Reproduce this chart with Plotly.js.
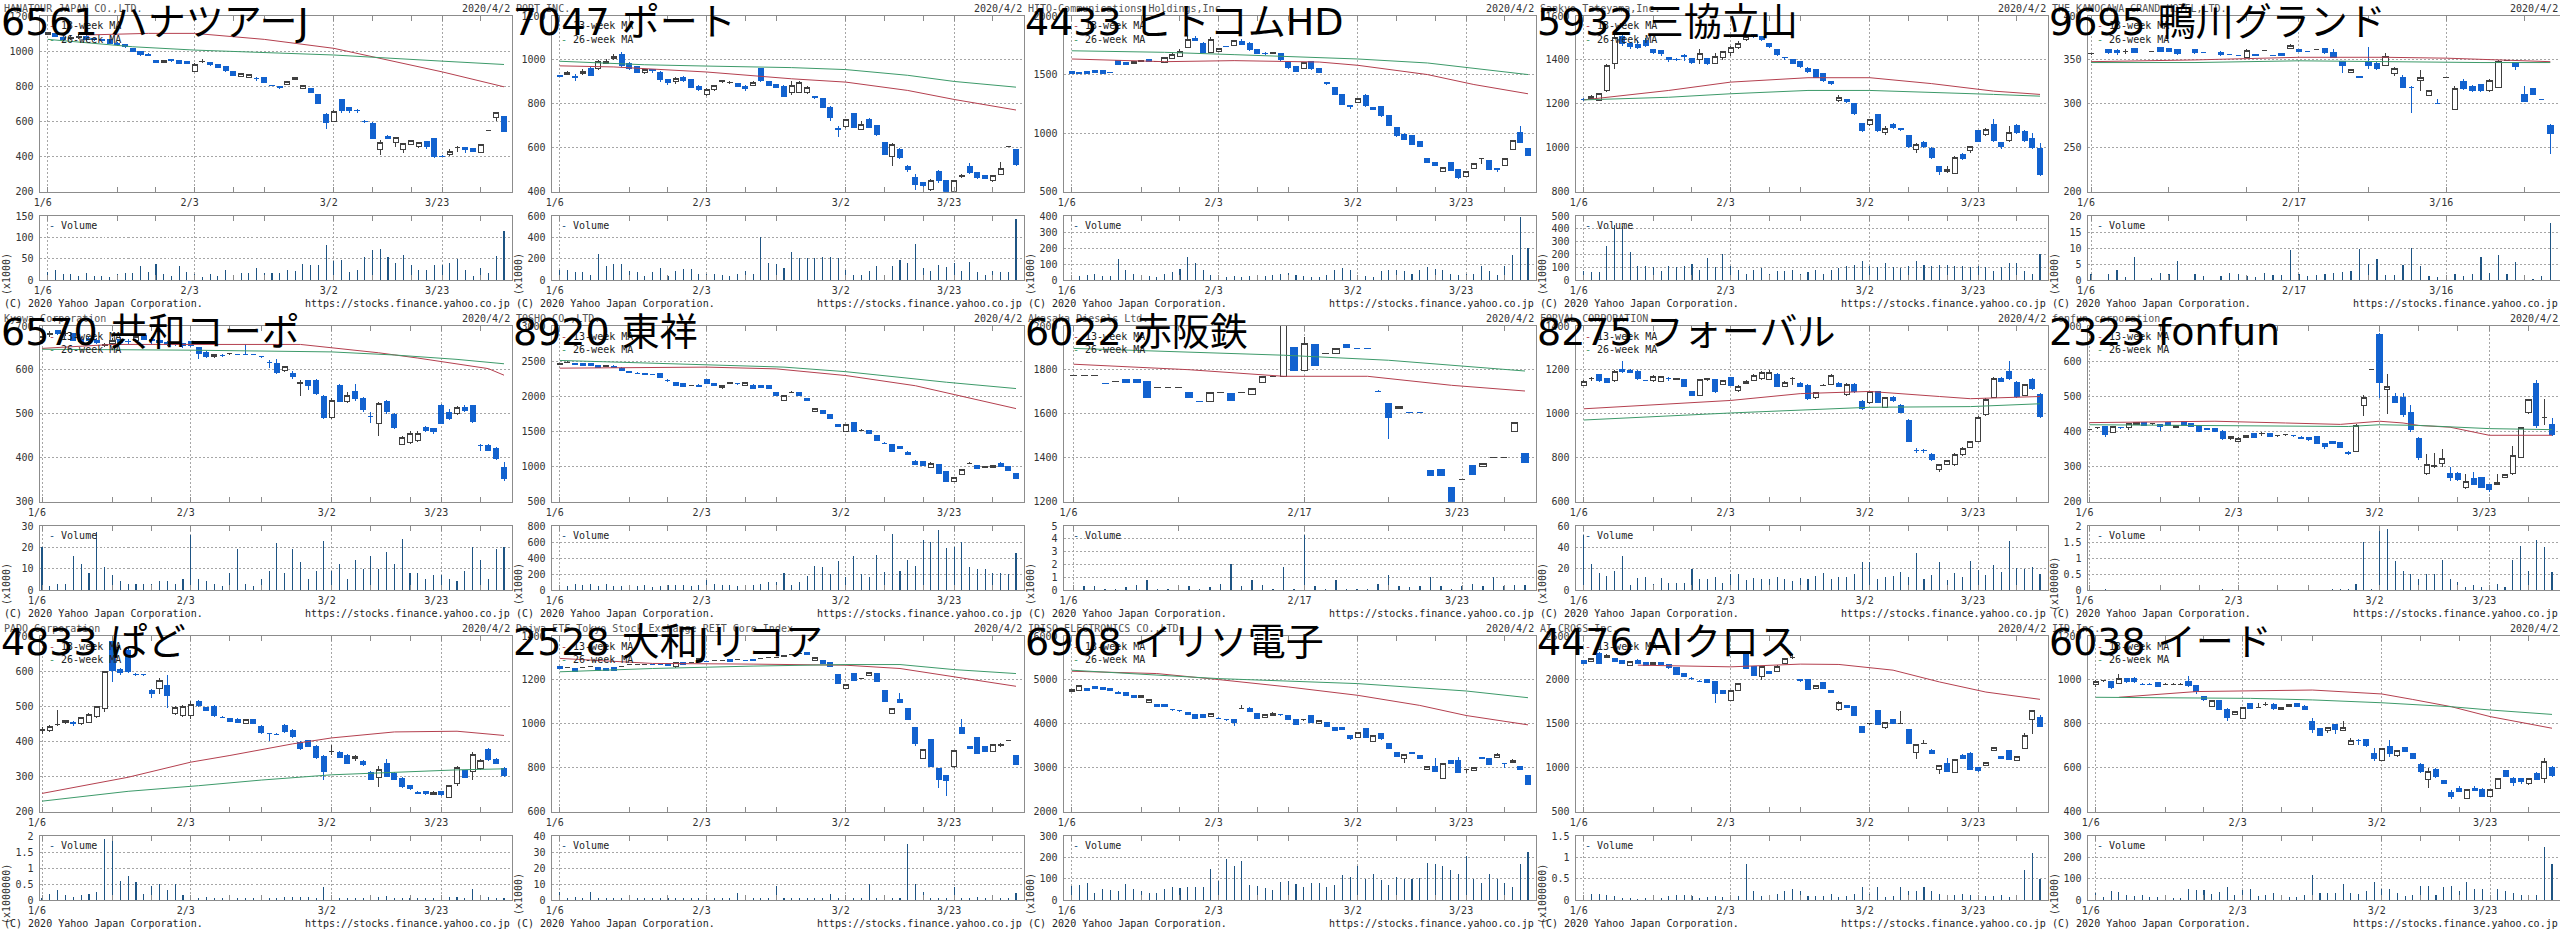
<!DOCTYPE html>
<html>
<head>
<meta charset="utf-8">
<script src="https://cdn.plot.ly/plotly-3.0.1.min.js"></script>
<style>
html,body{margin:0;padding:0;background:#fff;}
#chart{width:2560px;height:930px;}
/* pixel-sharp volume bars and candle bodies */
#chart .barlayer path{shape-rendering:crispEdges !important;}
#chart .boxlayer path{shape-rendering:crispEdges !important;}
</style>
</head>
<body>
<div id="chart"></div>
<script>
// ---------- tick labels (trading-day slots) ----------
const weeksStd = [9,14,24,28,42,47,56];
const datesStd = ['1/6','2/3','3/2','3/23'];
const datePosStd = [0,19,37,51];
const dates9695 = ['1/6','2/17','3/16'];
const datePos9695 = [0,24,41];
const weeks9695 = [9,18,32,50];
const dates6022 = ['1/6','2/17','3/23'];
const datePos6022 = [0,22,37];
const weeks6022 = [10,30,41];

// ---------- daily candles [open, high, low, close] ----------
const ohlc_6561 = [
[1095,1110,1090,1105],[1100,1105,1080,1085],[1080,1085,1060,1065],[1070,1090,1065,1080],[1075,1095,1070,1085],
[1085,1090,1060,1065],[1070,1075,1060,1065],[1065,1070,1055,1060],[1065,1068,1040,1045],[1045,1050,1030,1035],
[1040,1042,1020,1025],[1015,1018,995,1000],[1000,1002,970,980],[980,990,970,978],[945,950,935,938],
[935,950,930,945],[950,958,940,948],[945,948,925,930],[940,942,928,930],[886,932,882,924],
[940,958,935,942],[935,938,918,922],[922,925,902,905],[910,912,880,888],[885,888,858,860],
[858,878,855,875],[852,870,850,866],[845,855,830,845],[848,850,818,822],[805,807,800,803],
[800,802,785,794],[812,828,808,825],[838,852,835,850],[788,808,785,805],[785,790,760,765],
[752,755,698,700],[640,650,555,592],[602,665,600,658],[722,724,650,660],[680,682,650,660],
[665,672,650,662],[602,608,590,600],[590,595,500,502],[438,497,410,482],[515,520,500,505],
[478,510,455,508],[440,478,420,472],[470,492,465,490],[458,485,450,480],[488,490,445,458],
[500,502,390,398],[403,410,400,402],[412,445,405,430],[450,460,425,450],[450,455,420,440],
[445,448,425,430],[425,472,420,468],[550,552,548,550],[622,652,600,648],[630,632,540,545]];
const vol_6561 = [19.5,23,14,14,9,16,9,9,6,14,16,16,33,19,37,14,9,33,19,14,6,14,9,23,11,17,17,27,16,17,
17,23,22,37,35,34,82,45,47,18,23,54,70,72,55,39,58,34,23,23,35,35,39,50,23,9,27,16,56,115];
const ma13_6561 = [[5,1092],[13,1101],[19,1101],[28,1067],[37,1016],[41,978],[51,882],[59,797]];
const ma26_6561 = [[0,1067],[11,1025],[19,1006],[37,978],[51,943],[59,924]];

const ohlc_7047 = [
[928,932,920,926],[935,950,930,945],[925,935,902,922],[938,960,932,948],[962,968,925,930],
[960,1000,955,994],[985,1005,980,995],[1005,1025,1000,1015],[1025,1035,970,975],[985,990,955,960],
[968,972,940,945],[945,960,935,955],[956,960,940,950],[945,948,900,910],[910,915,885,898],
[900,920,890,915],[922,925,900,907],[912,915,870,876],[880,884,860,866],[841,870,838,864],
[864,888,860,884],[900,908,895,905],[895,902,890,898],[892,896,875,880],[880,884,860,868],
[884,905,880,899],[962,965,900,907],[902,905,880,884],[886,890,870,875],[880,885,830,835],
[850,905,840,884],[853,905,848,899],[850,880,845,876],[832,835,820,828],[823,826,780,785],
[785,788,720,736],[686,700,650,682],[698,732,690,727],[755,760,690,693],[685,720,680,708],
[728,735,688,693],[700,705,655,662],[624,628,565,571],[560,622,515,614],[594,600,550,556],
[517,520,490,500],[465,480,410,435],[440,445,420,428],[411,460,405,452],[491,500,440,449],
[449,455,395,398],[403,455,400,449],[467,482,462,476],[517,530,480,487],[487,490,460,466],
[472,478,458,462],[449,475,445,472],[479,535,475,507],[608,610,605,608],[590,595,515,524]];
const vol_7047 = [94,94,78,78,47,244,134,147,147,88,78,41,78,116,38,88,100,100,56,56,56,44,34,59,88,60,400,156,150,110,
260,203,203,210,219,219,203,94,44,44,88,134,47,134,188,156,334,113,81,141,125,163,88,169,78,50,81,75,75,572];
const ma13_7047 = [[0,973],[7,968],[19,945],[30,914],[37,899],[45,861],[51,820],[57,785],[59,772]];
const ma26_7047 = [[0,994],[11,978],[19,972],[30,965],[37,956],[45,930],[51,902],[59,876]];

const ohlc_4433 = [
[1528,1532,1505,1510],[1515,1518,1510,1513],[1522,1525,1505,1510],[1535,1540,1510,1514],[1532,1536,1505,1508],
[1515,1518,1510,1514],[1620,1625,1580,1590],[1605,1610,1580,1590],[1598,1615,1595,1610],[1612,1625,1608,1620],
[1625,1628,1604,1608],[1612,1620,1605,1612],[1600,1650,1595,1645],[1640,1680,1635,1675],[1655,1720,1650,1700],
[1735,1830,1730,1797],[1805,1830,1790,1795],[1768,1775,1685,1692],[1692,1820,1685,1797],[1698,1730,1690,1726],
[1742,1745,1735,1738],[1750,1795,1745,1790],[1782,1800,1750,1755],[1768,1775,1705,1712],[1712,1715,1675,1680],
[1680,1690,1670,1678],[1678,1695,1675,1692],[1684,1688,1620,1627],[1605,1610,1550,1557],[1571,1575,1520,1528],
[1551,1610,1545,1600],[1613,1618,1542,1548],[1548,1550,1510,1514],[1430,1440,1415,1428],[1387,1390,1325,1330],
[1330,1335,1240,1245],[1238,1242,1210,1228],[1260,1300,1255,1296],[1325,1330,1225,1232],[1220,1225,1200,1205],
[1226,1230,1140,1147],[1152,1155,1062,1068],[1048,1050,970,977],[992,1000,940,949],[983,988,895,901],
[929,932,880,887],[780,790,745,752],[752,755,720,723],[672,715,665,710],[746,750,675,681],
[689,695,612,619],[630,675,625,670],[695,742,690,740],[780,790,740,780],[765,770,685,689],
[700,705,670,690],[723,788,720,785],[864,940,860,935],[1006,1060,915,921],[870,875,808,813]];
const vol_4433 = [20,25,30,40,28,25,130,60,40,30,25,20,40,50,70,142,104,63,30,20,20,25,20,22,20,25,30,40,45,30,
25,20,18,30,60,75,65,30,25,20,55,60,60,55,40,60,80,70,60,40,30,40,40,85,55,30,90,156,396,198];
const ma13_4433 = [[0,1633],[12,1610],[21,1619],[32,1607],[37,1579],[46,1500],[52,1415],[59,1336]];
const ma26_4433 = [[0,1703],[12,1690],[21,1670],[37,1633],[46,1599],[59,1500]];

const ohlc_5932 = [
[1220,1225,1212,1218],[1225,1240,1220,1232],[1215,1250,1212,1245],[1260,1380,1255,1375],[1385,1520,1360,1500],
[1505,1525,1465,1475],[1475,1480,1450,1460],[1470,1490,1450,1457],[1490,1500,1460,1467],[1447,1450,1425,1432],
[1441,1445,1420,1429],[1410,1415,1390,1401],[1402,1410,1395,1400],[1418,1425,1395,1416],[1406,1410,1380,1390],
[1400,1450,1380,1429],[1406,1410,1375,1386],[1386,1430,1380,1417],[1413,1440,1400,1437],[1432,1462,1420,1456],
[1455,1485,1450,1477],[1493,1510,1488,1505],[1515,1520,1500,1508],[1505,1510,1485,1492],[1475,1478,1455,1460],
[1447,1450,1420,1425],[1412,1415,1400,1410],[1400,1405,1380,1386],[1392,1395,1365,1370],[1363,1368,1340,1348],
[1355,1358,1318,1322],[1337,1340,1300,1307],[1300,1305,1288,1292],[1215,1240,1210,1227],[1218,1222,1205,1210],
[1203,1206,1150,1157],[1111,1115,1072,1078],[1108,1130,1100,1127],[1150,1155,1070,1078],[1070,1100,1060,1088],
[1108,1112,1085,1093],[1086,1090,1075,1085],[1055,1060,1000,1005],[994,1020,975,1017],[1024,1030,998,1005],
[998,1002,950,956],[914,918,878,894],[891,915,885,902],[883,962,880,956],[968,975,945,953],
[989,1010,975,1004],[1078,1082,1025,1029],[1062,1090,1055,1081],[1105,1130,1028,1032],[1023,1028,995,1008],
[1032,1100,1028,1070],[1101,1110,1065,1070],[1073,1080,1025,1032],[1044,1068,995,1001],[998,1020,870,879]];
const vol_5932 = [70,60,65,265,430,420,215,110,110,100,70,110,100,110,125,80,170,100,200,110,80,50,80,90,50,70,70,80,50,60,
80,50,80,90,110,120,145,110,100,130,105,90,110,145,115,110,120,120,110,110,100,110,100,70,100,130,130,70,50,200];
const ma13_5932 = [[0,1218],[11,1261],[19,1299],[29,1319],[37,1319],[45,1292],[53,1258],[59,1243]];
const ma26_5932 = [[0,1218],[11,1230],[19,1246],[29,1261],[37,1261],[45,1253],[53,1243],[59,1235]];

const ohlc_9695 = [
[357,358,356,357],null,[362,363,357,358],[361,362,356,358],[360,362,357,360],
[363,364,358,359],null,[360,360,359,360],[364,365,359,360],[363,364,359,360],
[362,363,356,357],null,[362,363,357,358],[358,358,358,358],null,
[359,360,355,356],[356,356,356,356],[355,355,355,355],[353,362,352,361],[356,357,354,355],
[361,361,361,361],[355,355,355,355],[357,358,354,355],[363,368,362,366],[362,363,359,360],
[360,360,360,360],[362,362,362,362],[363,364,357,358],[359,362,352,353],[348,349,335,344],
[336,339,335,339],[331,332,329,330],[348,365,340,344],[346,348,338,340],[344,358,343,354],
[334,342,332,340],[330,333,318,319],[319,320,290,319],[327,339,315,330],[310,316,309,315],
[300,305,300,300],[330,330,330,330],[294,320,293,317],[325,328,316,317],[320,321,314,315],
[322,323,314,315],[315,328,313,327],[319,350,318,348],[349,349,349,349],[347,348,338,343],
[311,320,302,303],[317,318,310,311],[305,305,305,305],[275,277,243,266]];
const vol_9695 = [1.9,null,1.8,3.1,0.8,7.1,null,0.5,2.3,1.9,6,null,1.9,1.2,null,1.2,2.3,1.9,1.4,0.8,
2.1,1.5,1.5,9.4,2,1.2,1.5,2,2.3,2.5,2.8,9.6,4.9,6.5,1.5,1.5,4.7,10,4.4,1.2,0.8,1.2,1.9,1.4,1.8,
7.3,2.3,7.7,1.9,5.6,0.8,0.2,1.2,17.9];
const ma13_9695 = [[0,348],[12,350],[24,353],[34,353],[41,352],[53,348]];
const ma26_9695 = [[0,347],[12,347],[24,349],[34,348],[45,347],[53,347]];

const ohlc_6570 = [
[668,678,665,675],[680,688,675,683],[690,692,680,682],[683,688,678,683],[682,684,665,668],
[670,675,662,665],[672,676,664,668],[668,672,660,662],[655,662,652,658],[660,672,656,668],
[670,675,660,662],[665,670,658,664],[668,678,664,675],[678,680,668,670],[670,674,660,668],
[668,672,660,662],[662,665,655,657],[660,663,655,658],[660,662,650,656],[664,666,652,656],
[650,652,625,637],[640,642,628,630],[630,637,628,635],[633,636,630,633],[637,639,635,637],
[635,637,633,635],[635,660,633,635],[635,637,633,635],[630,632,628,630],[618,622,605,618],
[614,625,590,595],[599,610,596,607],[592,598,580,585],[569,576,540,572],[575,578,555,565],
[576,580,544,546],[540,542,488,491],[491,535,488,531],[565,568,526,529],[529,550,525,542],
[550,568,530,534],[534,538,505,511],[494,505,480,494],[479,527,450,524],[529,531,500,506],
[498,502,465,469],[430,450,428,447],[435,460,432,456],[439,460,435,456],[470,472,458,462],
[466,468,455,460],[519,522,476,479],[504,510,485,489],[501,518,498,515],[515,520,505,508],
[519,521,480,483],[427,432,415,427],[428,432,415,416],[420,425,395,398],[378,390,348,352]];
const vol_6570 = [20,2,3,3,16,12,8,27,11,7,4,3,3,3,3,4,4,3,5,26,5,4,3,2,8,19,3,2,5,9,
22,8,19,13,5,9,23,9,12,5,14,10,16,10,18,12,24,8,8,5,7,7,5,4,9,20,14,5,19,20];
const ma13_6570 = [[0,649],[9,658],[33,658],[37,651],[43,639],[48,627],[53,614],[57,603],[59,588]];
const ma26_6570 = [[0,647],[19,645],[37,641],[45,634],[53,624],[59,614]];

const ohlc_8920 = [
[2450,2475,2440,2470],[2475,2495,2470,2485],[2470,2480,2445,2450],[2470,2480,2435,2440],[2465,2475,2435,2440],
[2440,2450,2410,2415],[2430,2450,2420,2440],[2430,2440,2400,2405],[2400,2410,2365,2370],[2350,2360,2335,2340],
[2330,2340,2320,2330],[2325,2335,2310,2315],[2310,2320,2300,2310],[2320,2330,2265,2270],[2220,2240,2210,2220],
[2190,2200,2155,2160],[2175,2185,2135,2140],[2150,2160,2140,2150],[2160,2170,2135,2140],[2235,2245,2170,2175],
[2175,2185,2145,2150],[2120,2165,2110,2160],[2180,2195,2175,2190],[2175,2185,2165,2175],[2160,2210,2155,2200],
[2160,2170,2110,2115],[2150,2160,2120,2125],[2150,2160,2100,2105],[2055,2065,2010,2015],[1945,2025,1935,2015],
[2055,2070,2045,2055],[2055,2065,2005,2010],[1970,1980,1930,1935],[1790,1835,1780,1825],[1800,1810,1755,1760],
[1735,1745,1675,1680],[1600,1610,1570,1575],[1505,1610,1500,1600],[1630,1640,1500,1505],[1520,1535,1505,1520],
[1515,1525,1465,1470],[1440,1450,1365,1370],[1335,1345,1325,1335],[1310,1320,1210,1215],[1280,1290,1245,1250],
[1205,1215,1165,1170],[1075,1100,1020,1025],[1075,1085,1005,1010],[980,1060,975,1050],[1025,1035,900,905],
[930,940,780,790],[790,850,780,845],[885,960,880,955],[1050,1070,1030,1050],[1015,1025,965,970],
[990,1005,985,1000],[980,1020,975,1015],[1050,1060,995,1000],[995,1005,940,945],[895,905,830,835]];
const vol_8920 = [40,50,70,60,70,50,70,50,50,60,50,60,40,50,60,60,60,50,60,120,70,60,60,50,60,60,80,100,100,210,
60,100,180,300,290,200,360,160,420,200,160,440,220,700,240,380,300,620,600,750,530,540,600,290,260,260,210,210,200,460];
const ma13_8920 = [[0,2400],[19,2415],[28,2390],[37,2295],[46,2150],[52,2005],[59,1825]];
const ma26_8920 = [[0,2510],[19,2450],[29,2415],[37,2350],[50,2200],[59,2110]];

const ohlc_6022 = [
[1776,1778,1774,1776],[1776,1778,1774,1776],[1776,1778,1774,1776],[1740,1742,1738,1740],[1748,1750,1746,1748],
[1757,1759,1743,1745],[1757,1759,1743,1745],[1748,1750,1674,1676],[1719,1721,1717,1719],[1719,1721,1717,1719],
[1719,1721,1717,1719],[1696,1698,1671,1673],[1658,1660,1656,1658],[1658,1697,1656,1695],[1696,1698,1694,1696],
[1692,1694,1659,1661],[1696,1698,1694,1696],[1688,1716,1686,1714],[1742,1770,1740,1768],[1771,1773,1769,1771],
[1771,2020,1769,2010],[1901,1903,1796,1798],[1798,1951,1796,1921],[1916,1918,1819,1821],[1875,1877,1873,1875],
[1875,1900,1873,1898],[1918,1920,1900,1902],[1898,1900,1896,1898],[1898,1900,1896,1898],[1704,1710,1700,1704],
[1646,1648,1485,1585],[1623,1637,1621,1635],[1605,1607,1603,1605],[1605,1607,1603,1605],[1340,1342,1318,1320],
[1348,1350,1318,1320],[1264,1266,1190,1195],[1302,1304,1300,1302],[1363,1365,1323,1325],[1359,1376,1357,1374],
[1400,1402,1398,1400],[1400,1402,1398,1400],[1521,1561,1519,1559],[1420,1422,1377,1379]];
const vol_6022 = [0.4,0.3,0.35,0.1,0.1,0.2,0.4,0.8,0.05,0.05,0.1,0.3,0.1,0.2,0.5,2.0,0.3,0.8,0.4,0.1,
1.8,0.1,4.3,0.3,0.1,0.8,0.1,0.1,0.1,0.5,1.2,0.3,0.25,0.3,1.0,0.3,0.1,0.3,0.5,0.3,1.0,0.3,0.4,0.4];
const ma13_6022 = [[0,1826],[11,1801],[20,1771],[28,1771],[36,1730],[43,1704]];
const ma26_6022 = [[0,1898],[20,1867],[30,1844],[36,1821],[43,1795]];

const ohlc_8275 = [
[1130,1155,1125,1148],[1160,1170,1150,1160],[1178,1182,1145,1150],[1160,1165,1140,1145],[1150,1200,1145,1195],
[1200,1240,1185,1192],[1198,1202,1185,1190],[1195,1198,1155,1160],[1152,1156,1148,1152],[1150,1175,1145,1170],
[1148,1172,1145,1168],[1160,1168,1150,1160],[1156,1165,1152,1160],[1155,1160,1120,1125],[1100,1105,1080,1085],
[1085,1160,1080,1155],[1155,1165,1150,1160],[1155,1160,1095,1100],[1135,1155,1130,1150],[1165,1170,1125,1130],
[1107,1130,1100,1125],[1140,1152,1135,1148],[1152,1180,1148,1175],[1160,1195,1155,1188],[1158,1198,1155,1190],
[1178,1185,1120,1125],[1125,1150,1120,1145],[1160,1170,1130,1160],[1140,1145,1120,1125],[1130,1135,1065,1070],
[1073,1100,1068,1095],[1128,1135,1125,1130],[1135,1180,1130,1175],[1140,1145,1120,1125],[1087,1140,1082,1135],
[1135,1140,1095,1100],[1058,1062,1018,1023],[1050,1105,1045,1100],[1100,1105,1048,1053],[1030,1078,1025,1073],
[1076,1080,1055,1060],[1040,1045,1003,1008],[972,975,870,875],[832,845,820,832],[832,840,820,832],
[817,820,785,790],[748,772,735,768],[771,790,765,786],[768,820,762,817],[814,848,810,844],
[847,878,843,873],[875,990,870,982],[997,1070,992,1064],[1076,1168,1072,1163],[1163,1170,1143,1148],
[1194,1240,1155,1160],[1145,1150,1074,1079],[1084,1138,1080,1133],[1155,1165,1110,1114],[1088,1095,980,988]];
const vol_8275 = [52,24,16,13,18,32,5,11,12,6,11,7,7,7,20,10,10,12,7,15,15,9,11,10,10,12,10,8,11,10,
13,16,10,12,12,15,26,26,10,12,13,17,12,35,10,14,26,9,16,12,27,19,14,23,17,46,21,20,22,15];
const ma13_8275 = [[0,1023],[19,1061],[28,1092],[37,1102],[46,1079],[50,1069],[59,1079]];
const ma26_8275 = [[0,972],[19,1004],[37,1030],[50,1033],[59,1046]];

const ohlc_2323 = [
[406,408,404,406],[410,414,406,410],[414,415,385,391],[398,416,396,414],[412,414,408,410],
[410,425,405,422],[419,426,417,424],[424,426,415,417],[422,425,418,422],[420,422,400,414],
[424,426,415,417],[412,418,410,416],[427,429,415,417],[422,424,413,415],[417,419,399,401],
[408,410,403,405],[408,410,399,401],[401,403,377,379],[379,388,377,386],[372,383,370,381],
[382,391,380,389],[393,395,382,384],[393,398,388,393],[393,395,384,386],[389,391,384,389],
[390,392,386,390],[389,391,385,389],[384,386,378,380],[382,385,374,376],[386,388,365,367],
[365,368,350,357],[370,372,365,367],[369,371,353,355],[341,343,334,336],[343,420,341,417],
[474,505,445,496],[576,578,574,576],[677,680,495,538],[520,562,450,527],[498,510,480,482],
[496,508,440,449],[455,475,398,405],[379,383,320,325],[279,335,275,306],[300,338,297,302],
[310,350,300,322],[279,300,258,270],[281,284,258,262],[241,278,236,258],[265,285,248,250],
[268,270,238,240],[248,250,228,236],[249,280,247,255],[270,280,268,276],[279,358,275,331],
[325,412,323,410],[455,492,450,490],[536,545,410,417],[439,492,418,439],[419,438,388,390]];
const vol_2323 = [0.01,0.01,0.02,0.01,0.01,0.01,0.01,0.01,0.01,0.01,0.01,0.01,0.01,0.01,0.01,0.01,0.01,0.02,0.01,0.01,
0.01,0.01,0.01,0.01,0.01,0.01,0.01,0.01,0.01,0.01,0.01,0.02,0.03,0.02,0.2,1.5,0.02,2.0,1.9,0.9,
0.6,0.5,0.35,0.5,0.5,0.95,0.35,0.25,0.1,0.15,0.1,0.12,0.2,0.1,0.95,1.38,0.6,1.55,1.35,0.57];
const ma13_2323 = [[0,425],[16,429],[25,424],[32,420],[37,429],[40,424],[42,417],[46,412],[51,389],[59,389]];
const ma26_2323 = [[0,419],[16,417],[33,414],[37,419],[42,417],[51,408],[59,405]];

const ohlc_4833 = [
[430,440,420,435],[431,446,428,443],[449,490,445,449],[455,462,450,460],[455,458,445,450],
[450,470,447,468],[455,480,452,477],[470,500,467,498],[493,600,485,598],[685,690,570,603],
[605,610,590,595],[660,665,595,600],[591,595,585,591],[590,592,586,590],[545,550,525,535],
[550,580,535,572],[560,590,495,531],[479,500,475,496],[474,503,470,500],[474,515,465,506],
[514,518,498,501],[496,498,486,489],[500,503,470,474],[469,472,466,469],[465,467,456,458],
[463,466,452,455],[452,465,450,462],[462,465,450,452],[443,446,420,424],[422,425,400,422],
[420,423,417,420],[445,450,424,427],[431,435,410,414],[398,400,377,379],[403,405,383,386],
[386,390,350,353],[357,360,290,315],[372,390,360,372],[368,372,352,355],[360,364,335,338],
[350,361,345,358],[342,346,331,334],[312,316,290,293],[296,330,270,319],[336,350,298,301],
[309,312,290,293],[295,298,268,271],[274,277,262,265],[255,258,249,252],[258,260,248,251],
[250,258,248,255],[258,260,246,249],[241,277,238,274],[279,330,272,327],[317,320,295,298],
[315,370,290,363],[322,349,320,346],[376,380,345,348],[348,352,335,338],[322,326,300,303]];
const vol_4833 = [0.05,0.2,0.3,0.15,0.1,0.15,0.2,0.25,1.9,2.0,0.6,0.75,0.55,0.2,0.45,0.5,0.3,0.5,0.15,0.1,
0.05,0.1,0.05,0.05,0.05,0.05,0.05,0.05,0.05,0.05,0.05,0.08,0.1,0.08,0.08,0.05,0.4,0.05,0.05,0.05,
0.05,0.06,0.05,0.08,0.12,0.06,0.05,0.05,0.06,0.05,0.06,0.08,0.1,0.1,0.05,0.33,0.1,0.08,0.05,0.05];
const ma13_4833 = [[0,252],[11,298],[19,341],[24,360],[32,393],[37,410],[45,427],[53,429],[59,417]];
const ma26_4833 = [[0,230],[11,258],[20,274],[28,290],[37,305],[45,312],[53,319],[59,322]];

const ohlc_2528 = [
[1260,1262,1250,1252],[1256,1258,1254,1256],[1252,1255,1235,1237],[1255,1257,1253,1255],[1260,1262,1258,1260],
[1255,1257,1243,1245],[1252,1254,1239,1241],[1256,1258,1242,1244],[1260,1262,1258,1260],[1270,1272,1268,1270],
[1270,1272,1268,1270],[1272,1274,1270,1272],[1270,1272,1268,1270],[1270,1272,1268,1270],[1275,1277,1262,1264],
[1260,1280,1255,1278],[1278,1280,1270,1272],[1278,1280,1276,1278],[1282,1300,1280,1298],[1282,1284,1280,1282],
[1287,1289,1285,1287],[1287,1289,1285,1287],[1293,1295,1283,1285],[1293,1295,1291,1293],[1290,1292,1288,1290],
[1293,1295,1285,1287],[1296,1298,1294,1296],[1302,1304,1300,1302],[1302,1304,1300,1302],[1305,1315,1303,1313],
[1316,1318,1314,1316],[1320,1322,1318,1320],[1323,1326,1314,1316],[1287,1304,1285,1302],[1290,1292,1273,1275],
[1278,1280,1260,1262],[1226,1228,1184,1186],[1160,1182,1158,1180],[1229,1231,1196,1198],[1206,1208,1204,1206],
[1221,1234,1219,1232],[1229,1231,1193,1195],[1150,1152,1102,1104],[1046,1070,1044,1068],[1111,1140,1093,1095],
[1069,1071,1016,1018],[982,984,900,911],[840,887,838,885],[927,929,802,804],[798,800,710,745],
[763,765,670,743],[804,880,800,878],[985,1020,952,954],[895,897,888,890],[936,938,861,863],
[896,898,873,875],[875,910,873,908],[900,912,895,905],[924,926,922,924],[858,860,815,817]];
const vol_2528 = [5,1,2,1,5,1,1,1,1,1,1,1,1,1,1,1,1,1,1,1,1,1,1,4.5,1,1,1,1,8.5,1,
1,1,1,1,1,3.5,1,1,1,1,10,1,1,1,1,35,10,5,1,1,1,8,1,1,2,1,1,1,1,4.5];
const ma13_2528 = [[0,1298],[12,1275],[25,1272],[33,1270],[37,1267],[44,1252],[51,1214],[59,1171]];
const ma26_2528 = [[0,1237],[12,1252],[25,1263],[37,1270],[44,1270],[51,1247],[59,1229]];

const ohlc_6908 = [
[4740,4800,4720,4790],[4763,4880,4750,4863],[4800,4810,4755,4765],[4855,4870,4790,4800],[4825,4840,4770,4780],
[4800,4815,4740,4750],[4725,4740,4680,4687],[4725,4735,4640,4650],[4650,4660,4585,4595],[4595,4650,4585,4635],
[4496,4560,4485,4550],[4443,4455,4385,4397],[4435,4445,4385,4397],[4320,4340,4300,4320],[4305,4320,4280,4305],
[4267,4280,4200,4214],[4214,4225,4100,4115],[4214,4225,4140,4150],[4168,4240,4160,4229],[4130,4145,4115,4130],
[4090,4105,4075,4090],[4100,4110,3960,4040],[4360,4420,4340,4360],[4360,4380,4270,4283],[4229,4240,4105,4115],
[4150,4225,4140,4214],[4190,4260,4180,4244],[4206,4220,4190,4206],[4190,4200,4080,4090],[4100,4110,3970,3985],
[4090,4105,4075,4090],[4190,4200,4030,4040],[4000,4085,3990,4076],[4040,4050,3930,3940],[3908,3920,3835,3847],
[3924,3935,3850,3863],[3733,3745,3640,3656],[3680,3805,3670,3794],[3885,3900,3670,3680],[3595,3745,3585,3733],
[3771,3785,3640,3656],[3557,3570,3440,3450],[3351,3365,3240,3252],[3213,3325,3100,3313],[3340,3350,3310,3320],
[3275,3290,3190,3200],[2970,3040,2960,3025],[3040,3220,2905,2915],[2763,3110,2750,3100],[3160,3175,3090,3100],
[3160,3240,2885,2895],[2950,2965,2880,2950],[2935,3020,2925,3008],[3237,3250,3190,3200],[3200,3215,3060,3070],
[3237,3330,3225,3313],[3100,3115,3000,3100],[3120,3190,3110,3175],[3025,3040,2940,2950],[2820,2835,2600,2625]];
const vol_6908 = [65,70,80,35,50,45,40,75,50,40,35,35,50,60,55,60,60,60,145,90,190,160,185,70,65,55,45,85,90,75,
60,80,80,60,70,115,110,160,100,120,95,70,110,100,100,105,175,170,160,140,120,205,100,80,120,100,80,60,170,225];
const ma13_6908 = [[0,5198],[11,5145],[19,5008],[28,4840],[37,4649],[45,4420],[51,4190],[59,3977]];
const ma26_6908 = [[0,5221],[19,5030],[37,4916],[51,4748],[59,4595]];

const ohlc_4476 = [
[2218,2230,2180,2187],[2206,2255,2200,2244],[2300,2320,2180,2187],[2256,2290,2250,2282],[2244,2250,2200,2206],
[2218,2225,2180,2187],[2168,2215,2160,2206],[2225,2235,2180,2187],[2195,2200,2160,2168],[2175,2200,2170,2195],
[2195,2200,2170,2175],[2180,2185,2130,2140],[2137,2145,2055,2065],[2072,2080,2035,2042],[2015,2030,2000,2015],
[1985,2000,1975,1985],[2008,2015,1960,1970],[1977,1985,1740,1851],[1882,1890,1840,1851],[1767,1890,1760,1882],
[1882,1965,1875,1958],[2302,2320,2120,2130],[2149,2160,2045,2053],[2042,2155,2000,2149],[2092,2100,2065,2072],
[2092,2165,2085,2156],[2187,2255,2180,2244],[2256,2290,2240,2256],[2004,2015,1980,1989],[2004,2010,1880,1889],
[1908,1945,1900,1939],[1966,1975,1895,1901],[1882,1890,1855,1862],[1660,1755,1650,1748],[1710,1720,1685,1691],
[1698,1705,1590,1595],[1469,1475,1395,1404],[1500,1510,1490,1500],[1652,1660,1485,1492],[1454,1525,1445,1519],
[1545,1550,1495,1500],[1508,1650,1500,1508],[1431,1440,1270,1278],[1176,1270,1100,1264],[1271,1320,1265,1271],
[1202,1210,1160,1164],[985,1030,930,1023],[1050,1110,950,958],[946,1105,940,1099],[1145,1160,1105,1110],
[1164,1175,980,985],[1004,1010,955,965],[1023,1065,1015,1061],[1195,1240,1190,1233],[1126,1135,1105,1110],
[1195,1200,1095,1099],[1080,1130,1075,1126],[1214,1400,1210,1366],[1545,1660,1380,1652],[1576,1600,1465,1469]];
const vol_4476 = [0.12,0.15,0.15,0.12,0.1,0.05,0.05,0.03,0.05,0.05,0.05,0.1,0.12,0.12,0.1,0.05,0.07,0.1,0.08,0.1,
0.1,0.85,0.2,0.1,0.08,0.15,0.2,0.25,0.2,0.1,0.1,0.1,0.15,0.08,0.1,0.15,0.3,0.15,0.3,0.07,
0.1,0.3,0.2,0.2,0.3,0.2,0.15,0.1,0.12,0.15,0.12,0.1,0.1,0.1,0.12,0.08,0.1,0.7,1.1,0.5];
const ma13_4476 = [[7,2168],[19,2149],[28,2180],[33,2176],[40,2111],[46,1977],[52,1862],[59,1779]];
const ma26_4476 = [];

const ohlc_6038 = [
[977,1000,970,995],[997,1000,990,997],[992,995,960,966],[985,1025,980,1008],[1006,1010,988,992],
[1006,1012,988,992],[981,985,978,981],[981,985,978,981],[987,990,968,972],[980,984,976,980],
[980,984,976,980],[981,985,978,981],[992,1020,970,974],[974,978,935,947],[924,928,905,909],
[881,908,878,905],[905,908,862,866],[866,870,815,830],[843,858,840,855],[825,878,820,875],
[893,896,866,870],[875,895,870,875],[890,900,880,890],[890,893,865,870],[866,878,862,875],
[878,889,875,886],[893,896,875,878],[881,884,862,866],[810,825,760,775],[779,782,745,749],
[772,787,760,784],[795,800,755,775],[772,812,770,784],[708,735,705,726],[723,730,705,723],
[729,732,695,703],[663,690,630,643],[635,691,630,688],[699,725,650,666],[658,681,650,678],
[693,696,670,673],[666,669,640,643],[617,620,575,582],[547,600,510,582],[593,600,555,559],
[541,545,525,529],[486,500,460,471],[506,515,490,494],[461,502,458,499],[506,515,492,496],
[502,508,465,468],[471,505,468,502],[506,555,503,552],[587,590,558,562],[552,556,518,532],
[552,555,525,537],[529,555,520,552],[572,580,544,547],[552,645,530,628],[602,610,560,567]];
const vol_6038 = [35,15,40,38,22,20,25,15,15,15,10,8,50,45,45,30,38,60,25,45,50,20,25,35,20,15,15,25,115,35,
35,35,75,35,30,40,85,50,50,35,20,25,65,65,25,60,65,40,85,50,50,25,50,40,35,25,25,25,250,170];
const ma13_6038 = [[3,921],[13,947],[28,954],[37,936],[41,911],[46,878],[51,833],[59,780]];
const ma26_6038 = [[0,921],[20,916],[28,909],[37,896],[46,878],[51,863],[59,843]];

// ---------- x scales: slot count, labelled dates, weekly ticks, last-slot pixel ----------
const X_SCALES = {
  std:  {n:60, vals:datePosStd,  text:datesStd,  weeks:weeksStd,  lastPx:504},
  s9695:{n:54, vals:datePos9695, text:dates9695, weeks:weeks9695, lastPx:502.3},
  s6022:{n:44, vals:datePos6022, text:dates6022, weeks:weeks6022, lastPx:501}
};

// price:[min,max,step]  volume:[min,max,step]  first: pixel of slot 0 inside the panel
const panels = [
 {title:'6561 ハナツアーJ', name:'HANATOUR JAPAN CO.,LTD.', ohlc:ohlc_6561, vol:vol_6561, ma13:ma13_6561, ma26:ma26_6561, price:[200,1200,200], volume:[0,150,50], unit:'(x1000)', xs:'std', first:47.7},
 {title:'7047 ポート', name:'PORT INC.', ohlc:ohlc_7047, vol:vol_7047, ma13:ma13_7047, ma26:ma26_7047, price:[400,1200,200], volume:[0,600,200], unit:'(x1000)', xs:'std', first:47.7},
 {title:'4433 ヒトコムHD', name:'HITO-Communications Holdings,Inc.', ohlc:ohlc_4433, vol:vol_4433, ma13:ma13_4433, ma26:ma26_4433, price:[500,2000,500], volume:[0,400,100], unit:'(x1000)', xs:'std', first:47.7},
 {title:'5932 三協立山', name:'Sankyo Tateyama,Inc.', ohlc:ohlc_5932, vol:vol_5932, ma13:ma13_5932, ma26:ma26_5932, price:[800,1600,200], volume:[0,500,100], unit:'(x1000)', xs:'std', first:47.7},
 {title:'9695 鴨川グランド', name:'THE KAMOGAWA GRAND HOTEL,LTD.', ohlc:ohlc_9695, vol:vol_9695, ma13:ma13_9695, ma26:ma26_9695, price:[200,400,50], volume:[0,20,5], unit:'(x1000)', xs:'s9695', first:43},
 {title:'6570 共和コーポ', name:'Kyowa Corporation', ohlc:ohlc_6570, vol:vol_6570, ma13:ma13_6570, ma26:ma26_6570, price:[300,700,100], volume:[0,30,10], unit:'(x1000)', xs:'std', first:42},
 {title:'8920 東祥', name:'TOSHO CO.,LTD.', ohlc:ohlc_8920, vol:vol_8920, ma13:ma13_8920, ma26:ma26_8920, price:[500,3000,500], volume:[0,800,200], unit:'(x1000)', xs:'std', first:47.7},
 {title:'6022 赤阪鉄', name:'Akasaka Diesels Ltd.', ohlc:ohlc_6022, vol:vol_6022, ma13:ma13_6022, ma26:ma26_6022, price:[1200,2000,200], volume:[0,5,1], unit:'(x1000)', xs:'s6022', first:49.6},
 {title:'8275 フォーバル', name:'FORVAL CORPORATION', ohlc:ohlc_8275, vol:vol_8275, ma13:ma13_8275, ma26:ma26_8275, price:[600,1400,200], volume:[0,60,20], unit:'(x1000)', xs:'std', first:47.7},
 {title:'2323 fonfun', name:'fonfun corporation', ohlc:ohlc_2323, vol:vol_2323, ma13:ma13_2323, ma26:ma26_2323, price:[200,700,100], volume:[0,2,0.5], unit:'(x100000)', xs:'std', first:41.5},
 {title:'4833 ぱど', name:'PADO Corporation', ohlc:ohlc_4833, vol:vol_4833, ma13:ma13_4833, ma26:ma26_4833, price:[200,700,100], volume:[0,2,0.5], unit:'(x1000000)', xs:'std', first:42},
 {title:'2528 大和Jリコア', name:'Daiwa ETF-Tokyo Stock Exchange REIT Core Index', ohlc:ohlc_2528, vol:vol_2528, ma13:ma13_2528, ma26:ma26_2528, price:[600,1400,200], volume:[0,40,10], unit:'(x1000)', xs:'std', first:47.7},
 {title:'6908 イリソ電子', name:'IRISO ELECTRONICS CO.,LTD.', ohlc:ohlc_6908, vol:vol_6908, ma13:ma13_6908, ma26:ma26_6908, price:[2000,6000,1000], volume:[0,300,100], unit:'(x1000)', xs:'std', first:47.7},
 {title:'4476 AIクロス', name:'AI CROSS Inc.', ohlc:ohlc_4476, vol:vol_4476, ma13:ma13_4476, ma26:ma26_4476, price:[500,2500,500], volume:[0,1.5,0.5], unit:'(x1000000)', xs:'std', first:47.7},
 {title:'6038 イード', name:'IID,Inc.', ohlc:ohlc_6038, vol:vol_6038, ma13:ma13_6038, ma26:ma26_6038, price:[400,1200,200], volume:[0,300,100], unit:'(x1000)', xs:'std', first:47.7}
];

// ---------- styling ----------
const MONO = 'DejaVu Sans Mono, Liberation Mono, monospace';
const HEAD = 'DejaVu Sans, Noto Sans CJK JP, sans-serif';
const TXT = '#333333';
const FRAME = '#8c8c8c';
const GRID = '#a6a6a6';
const UP_LINE = '#404040';
const DOWN = '#1262cf';
const MA13_COLOR = '#b4404f';
const MA26_COLOR = '#3d9a6a';
const VOL_COLOR = '#1f5584';

const W = 2560, H = 930, PW = 512, PH = 310;
const PLOT_L = 39.5, PLOT_R = 511.5;
const PRICE_T = 16, PRICE_B = 191.7, VOL_T = 216, VOL_B = 280;
const fx = v => v / W;
const fy = v => 1 - v / H;
const sfx = n => (n === 1 ? '' : String(n));

const traces = [];
const layout = {
  width: W, height: H,
  margin: {l:0, r:0, t:0, b:0, autoexpand: false},
  paper_bgcolor: '#ffffff', plot_bgcolor: '#ffffff',
  showlegend: false, hovermode: false,
  boxgap: 0.35, boxgroupgap: 0,
  annotations: []
};
const titles = [];

function xAxisDef(dom, anchor, range, xs) {
  return {
    domain: dom, anchor: anchor, type: 'linear', range: range,
    rangeslider: {visible: false},
    tickmode: 'array', tickvals: xs.vals, ticktext: xs.text,
    ticks: 'inside', ticklen: 5, tickwidth: 1, tickcolor: FRAME,
    minor: {tickmode: 'array', tickvals: xs.weeks, ticks: 'inside', ticklen: 5, tickwidth: 1, tickcolor: FRAME, showgrid: false},
    showgrid: true, gridcolor: GRID, griddash: '2px,2px', gridwidth: 1,
    showline: true, mirror: 'ticks', linecolor: FRAME, linewidth: 1,
    zeroline: false, fixedrange: true,
    tickfont: {family: MONO, size: 10, color: TXT},
    ticklabelshift: -5, ticklabelstandoff: 1
  };
}
function yAxisDef(dom, anchor, spec) {
  return {
    domain: dom, anchor: anchor, type: 'linear', range: [spec[0], spec[1]],
    tickmode: 'linear', tick0: spec[0], dtick: spec[2],
    ticks: '', showgrid: true, gridcolor: GRID, griddash: '2px,2px', gridwidth: 1,
    showline: true, mirror: true, linecolor: FRAME, linewidth: 1,
    zeroline: false, fixedrange: true,
    tickfont: {family: MONO, size: 10, color: TXT},
    ticklabelstandoff: 3
  };
}
function note(text, x, y, xanchor, opts) {
  return Object.assign({
    text: text, x: fx(x), y: fy(y), xref: 'paper', yref: 'paper',
    xanchor: xanchor, yanchor: 'middle', align: xanchor === 'right' ? 'right' : (xanchor === 'left' ? 'left' : 'center'),
    showarrow: false, borderpad: 0,
    font: {family: MONO, size: 10, color: TXT}
  }, opts || {});
}

panels.forEach((p, k) => {
  const r = Math.floor(k / 5), c = k % 5;
  const ox = c * PW, oy = r * PH;
  const ip = 2 * k + 1, iv = 2 * k + 2;
  const xs = X_SCALES[p.xs];
  const step = (xs.lastPx - p.first) / (xs.n - 1);
  const xr = [(PLOT_L - p.first) / step, (PLOT_R - p.first) / step];
  const xdom = [fx(ox + PLOT_L), fx(ox + PLOT_R)];

  layout['xaxis' + sfx(ip)] = xAxisDef(xdom.slice(), 'y' + sfx(ip), xr.slice(), xs);
  layout['yaxis' + sfx(ip)] = yAxisDef([fy(oy + PRICE_B), fy(oy + PRICE_T)], 'x' + sfx(ip), p.price);
  layout['xaxis' + sfx(iv)] = xAxisDef(xdom.slice(), 'y' + sfx(iv), xr.slice(), xs);
  layout['yaxis' + sfx(iv)] = yAxisDef([fy(oy + VOL_B), fy(oy + VOL_T)], 'x' + sfx(iv), p.volume);

  // moving averages
  [[p.ma13, MA13_COLOR], [p.ma26, MA26_COLOR]].forEach(([ma, col]) => {
    if (!ma.length) return;
    traces.push({type: 'scatter', mode: 'lines', x: ma.map(d => d[0]), y: ma.map(d => d[1]),
      xaxis: 'x' + sfx(ip), yaxis: 'y' + sfx(ip), line: {color: col, width: 1},
      hoverinfo: 'skip', showlegend: false});
  });

  // candles
  const xi = [], o = [], h = [], l = [], cl = [];
  p.ohlc.forEach((q, i) => { if (q) { xi.push(i); o.push(q[0]); h.push(q[1]); l.push(q[2]); cl.push(q[3]); } });
  traces.push({type: 'candlestick', x: xi, open: o, high: h, low: l, close: cl,
    xaxis: 'x' + sfx(ip), yaxis: 'y' + sfx(ip), whiskerwidth: 0,
    increasing: {line: {color: UP_LINE, width: 1}, fillcolor: '#ffffff'},
    decreasing: {line: {color: DOWN, width: 1}, fillcolor: DOWN},
    hoverinfo: 'skip', showlegend: false});

  // volume
  const vx = [], vy = [];
  p.vol.forEach((v, i) => { if (v !== null) { vx.push(i); vy.push(v); } });
  traces.push({type: 'bar', x: vx, y: vy, width: 0.14, marker: {color: VOL_COLOR, line: {width: 0}},
    xaxis: 'x' + sfx(iv), yaxis: 'y' + sfx(iv), hoverinfo: 'skip', showlegend: false});

  // panel texts
  const A = layout.annotations;
  A.push(note(p.name, ox + 3, oy + 8.5, 'left', {font: {family: MONO, size: 10, color: '#555'}}));
  A.push(note('2020/4/2', ox + 510.5, oy + 8.5, 'right'));
  A.push(note('<span style="color:' + MA13_COLOR + '">-</span> 13-week MA', ox + 48, oy + 26, 'left', {font: {family: MONO, size: 10, color: '#222'}}));
  if (p.ma26.length) {
    A.push(note('<span style="color:' + MA26_COLOR + '">-</span> 26-week MA', ox + 48, oy + 39.3, 'left', {font: {family: MONO, size: 10, color: '#222'}}));
  }
  A.push(note('<span style="color:' + VOL_COLOR + '">-</span> Volume', ox + 48, oy + 225, 'left', {font: {family: MONO, size: 10, color: '#222'}}));
  A.push(note(p.unit, ox + 6, oy + 274, 'center', {textangle: -90}));
  A.push(note('(C) 2020 Yahoo Japan Corporation.', ox + 3, oy + 303, 'left', {font: {family: MONO, size: 10, color: '#222'}}));
  A.push(note('https://stocks.finance.yahoo.co.jp', ox + 510.5, oy + 303, 'right', {font: {family: MONO, size: 10, color: '#222'}}));

  titles.push(note(p.title, ox + 0, oy + 45, 'left', {yanchor: 'bottom', font: {family: HEAD, size: 38, color: '#000'}}));
});
layout.annotations = layout.annotations.concat(titles);

Plotly.newPlot('chart', traces, layout, {staticPlot: true, displayModeBar: false});
</script>
</body>
</html>
